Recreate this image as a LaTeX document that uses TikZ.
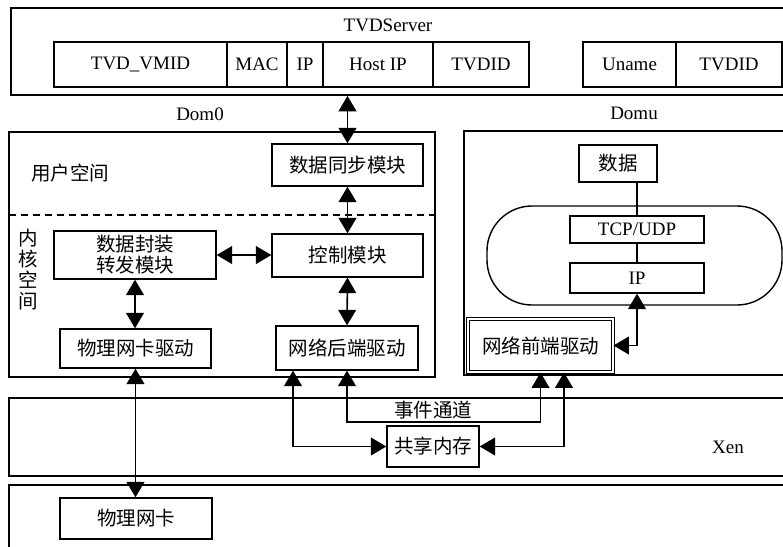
\documentclass[tikz,border=0pt]{standalone}
\usepackage{fontspec}
\setmainfont{Liberation Serif}
\newfontfamily\cjk{Noto Sans CJK SC}
\usetikzlibrary{arrows.meta}
\begin{document}
\begin{tikzpicture}[x=1pt,y=-1pt,
  box/.style={draw,line width=1.4pt,inner sep=0pt,font=\fontsize{19}{22}\selectfont},
  cbox/.style={box,font=\cjk\fontsize{19.5}{22}\selectfont},
  big/.style={draw,line width=1.8pt,inner sep=0pt},
  arr/.style={line width=1.6pt,{Triangle[scale=2.1]}-{Triangle[scale=2.1]}},
  plain/.style={line width=1.4pt},
  lbl/.style={font=\fontsize{19}{22}\selectfont,inner sep=0pt},
  clbl/.style={font=\cjk\fontsize{19.5}{22}\selectfont,inner sep=0pt}]
\useasboundingbox (0,0) rectangle (783,546);
% outer boxes
\node[big,minimum width=789,minimum height=87] (tvds) at (405.5,51.5) {};
\node[big,minimum width=426,minimum height=245] (dom0) at (222,254.5) {};
\node[big,minimum width=336,minimum height=244] (domu) at (632,253) {};
\node[big,minimum width=791,minimum height=78] (xen) at (404.5,437) {};
\node[big,minimum width=791,minimum height=80] (hw) at (404.5,525) {};
% TVDServer
\node[lbl] (tvdlbl) at (388,25) {TVDServer};
\node[box,minimum width=173,minimum height=45] (f1) at (140.5,64.5) {TVD\_VMID};
\node[box,minimum width=60,minimum height=45] (f2) at (257,64.5) {MAC};
\node[box,minimum width=36,minimum height=45] (f3) at (305,64.5) {IP};
\node[box,minimum width=110,minimum height=45] (f4) at (378,64.5) {Host IP};
\node[box,minimum width=96,minimum height=45] (f5) at (481,64.5) {TVDID};
\node[box,minimum width=93,minimum height=45] (g1) at (629.5,64.5) {\raisebox{-3pt}{Uname}};
\node[box,minimum width=106,minimum height=45] (g2) at (729,64.5) {TVDID};
% labels
\node[lbl] (d0lbl) at (200,114) {Dom0};
\node[lbl] (dulbl) at (634,113) {Domu};
\node[clbl] (user) at (70,173) {用户空间};
\node[clbl,align=center,font=\cjk\fontsize{19.5}{21}\selectfont] (kern) at (28,270) {内\\核\\空\\间};
\coordinate (dl) at (9,215);
\coordinate (dr) at (435,215);
\draw[line width=1.4pt,dash pattern=on 7pt off 5pt] (dl) -- (dr);
% Dom0 modules
\node[cbox,minimum width=151,minimum height=42] (sync) at (347.5,165) {数据同步模块};
\node[cbox,minimum width=151,minimum height=43] (ctrl) at (347.5,255.5) {控制模块};
\node[cbox,minimum width=162,minimum height=48,align=center,font=\cjk\fontsize{19.5}{21}\selectfont] (encap) at (135,255) {数据封装\\转发模块};
\node[cbox,minimum width=151,minimum height=39] (nicdrv) at (135.5,348.5) {物理网卡驱动};
\node[cbox,minimum width=142,minimum height=44] (back) at (347,348) {网络后端驱动};
% Domu
\node[cbox,minimum width=78,minimum height=37] (data) at (618,163.5) {数据};
\node[draw,line width=1.4pt,minimum width=295,minimum height=99,rounded corners=45pt] (stack) at (634.5,255.5) {};
\node[box,minimum width=134,minimum height=27] (tcp) at (637,229.5) {TCP/UDP};
\node[box,minimum width=134,minimum height=30] (ip) at (637,278) {IP};
\node[cbox,minimum width=145,minimum height=53,double,line width=1pt,double distance=1.2pt] (front) at (540.5,345.5) {网络前端驱动};
% Xen
\node[clbl] (evlbl) at (433,410) {事件通道};
\node[cbox,minimum width=92,minimum height=41] (shm) at (433,446.5) {共享内存};
\node[lbl] (xenlbl) at (728,447) {Xen};
% hardware
\node[cbox,minimum width=152,minimum height=41] (nic) at (136,518.5) {物理网卡};
% connectors
\coordinate (evy) at (0,422);
\draw[arr] (sync.north |- tvds.south) -- (sync.north);
\draw[arr] (sync.south) -- (ctrl.north);
\draw[arr] (ctrl.south) -- (back.north);
\draw[arr] (encap.east) -- (encap.east -| ctrl.west);
\draw[arr] (encap.south) -- (encap.south |- nicdrv.north);
\draw[arr] (nicdrv.south) -- (nicdrv.south |- nic.north);
\draw[plain] (tcp.north) -- (tcp.north |- data.south);
\draw[plain] (tcp.south) -- (ip.north);
\draw[arr] (ip.south) |- (front.east);
\draw[arr] (back.south) |- (front.south |- evy) -- (front.south);
\draw[arr] ([xshift=-54pt]back.south) |- (shm.west);
\draw[arr] (shm.east) -| ([xshift=23.5pt]front.south);
\end{tikzpicture}
\end{document}
